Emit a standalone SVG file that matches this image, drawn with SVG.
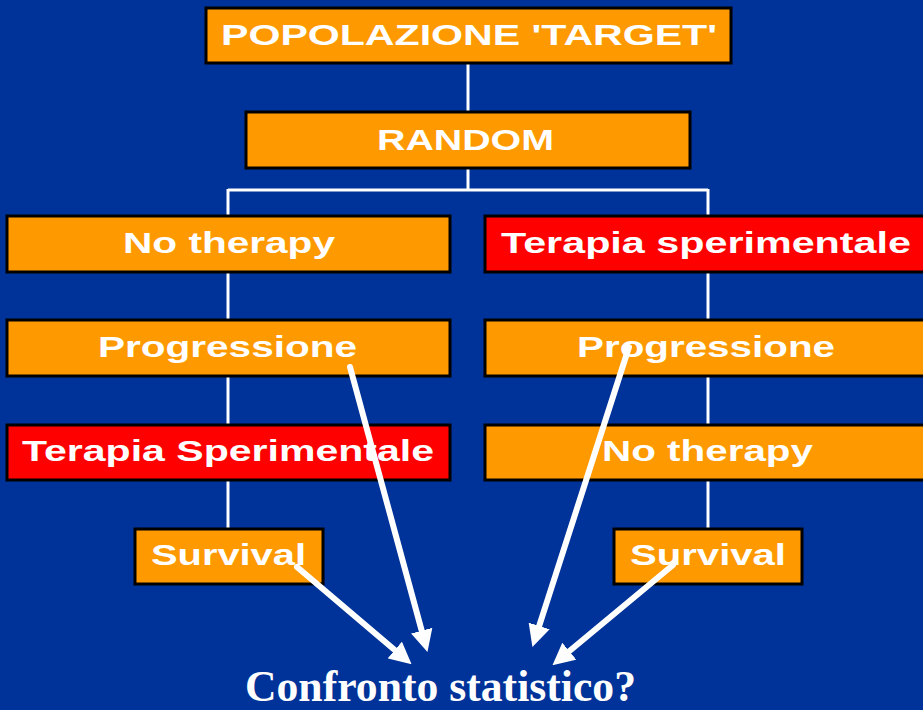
<svg xmlns="http://www.w3.org/2000/svg" width="923" height="710" viewBox="0 0 923 710">
  <style>
    .box { stroke: #000; stroke-width: 3; }
    .orange { fill: #FF9900; }
    .red { fill: #FF0000; }
    .lbl { font-family: "Liberation Sans", Arial, sans-serif; font-weight: bold; fill: #fff; font-size: 29px; }
    .link { stroke: #fff; stroke-width: 3; fill: none; }
    .arrow { stroke: #fff; stroke-width: 6; fill: none; stroke-linecap: round; }
    .title { font-family: "Liberation Serif", "Times New Roman", serif; font-weight: bold; fill: #fff; font-size: 44px; }
  </style>
  <defs>
    <marker id="head" markerUnits="userSpaceOnUse" markerWidth="22" markerHeight="22" refX="8" refY="11" orient="auto">
      <path d="M0,0 L22,11 L0,22 z" fill="#fff"/>
    </marker>
  </defs>

  <rect width="923" height="710" fill="#003399"/>

  <!-- tree connectors -->
  <g id="connectors">
    <line class="link" x1="468" y1="63" x2="468" y2="112"/>
    <path class="link" d="M468,168 V190 M228,190 H708 M228,189 V216 M708,189 V216"/>
    <line class="link" x1="228" y1="272" x2="228" y2="320"/>
    <line class="link" x1="228" y1="376" x2="228" y2="424"/>
    <line class="link" x1="228" y1="480" x2="228" y2="528"/>
    <line class="link" x1="708" y1="272" x2="708" y2="320"/>
    <line class="link" x1="708" y1="376" x2="708" y2="424"/>
    <line class="link" x1="708" y1="480" x2="708" y2="528"/>
  </g>

  <g id="target">
    <rect class="box orange" x="206" y="8" width="525" height="55"/>
    <text class="lbl" x="221" y="45" textLength="496" lengthAdjust="spacingAndGlyphs" font-size="30">POPOLAZIONE 'TARGET'</text>
  </g>
  <g id="random">
    <rect class="box orange" x="246" y="112" width="444" height="56"/>
    <text class="lbl" x="377" y="150" textLength="177" lengthAdjust="spacingAndGlyphs" font-size="30">RANDOM</text>
  </g>

  <g id="left-no-therapy">
    <rect class="box orange" x="7" y="216" width="443" height="56"/>
    <text class="lbl" x="123" y="253" textLength="212" lengthAdjust="spacingAndGlyphs">No therapy</text>
  </g>
  <g id="left-progressione">
    <rect class="box orange" x="7" y="320" width="443" height="56"/>
    <text class="lbl" x="98" y="357" textLength="259" lengthAdjust="spacingAndGlyphs">Progressione</text>
  </g>
  <g id="left-terapia">
    <rect class="box red" x="7" y="425" width="443" height="55"/>
    <text class="lbl" x="22" y="461" textLength="412" lengthAdjust="spacingAndGlyphs">Terapia Sperimentale</text>
  </g>
  <g id="left-survival">
    <rect class="box orange" x="135" y="529" width="188" height="55"/>
    <text class="lbl" x="151" y="565" textLength="155" lengthAdjust="spacingAndGlyphs">Survival</text>
  </g>

  <g id="right-terapia">
    <rect class="box red" x="485" y="216" width="445" height="56"/>
    <text class="lbl" x="501" y="253" textLength="410" lengthAdjust="spacingAndGlyphs">Terapia sperimentale</text>
  </g>
  <g id="right-progressione">
    <rect class="box orange" x="485" y="320" width="445" height="56"/>
    <text class="lbl" x="577" y="357" textLength="258" lengthAdjust="spacingAndGlyphs">Progressione</text>
  </g>
  <g id="right-no-therapy">
    <rect class="box orange" x="485" y="425" width="445" height="55"/>
    <text class="lbl" x="602" y="461" textLength="211" lengthAdjust="spacingAndGlyphs">No therapy</text>
  </g>
  <g id="right-survival">
    <rect class="box orange" x="614" y="529" width="188" height="55"/>
    <text class="lbl" x="630" y="565" textLength="156" lengthAdjust="spacingAndGlyphs">Survival</text>
  </g>

  <!-- comparison arrows -->
  <g id="arrows">
    <line class="arrow" x1="350" y1="367" x2="423.8" y2="638.4" marker-end="url(#head)"/>
    <line class="arrow" x1="297" y1="567" x2="400.9" y2="655.2" marker-end="url(#head)"/>
    <line class="arrow" x1="629" y1="347" x2="536.7" y2="633.6" marker-end="url(#head)"/>
    <line class="arrow" x1="673" y1="565" x2="563.2" y2="656.3" marker-end="url(#head)"/>
  </g>

  <g id="confronto">
    <text class="title" x="245" y="701" textLength="391" lengthAdjust="spacingAndGlyphs">Confronto statistico?</text>
  </g>
</svg>
